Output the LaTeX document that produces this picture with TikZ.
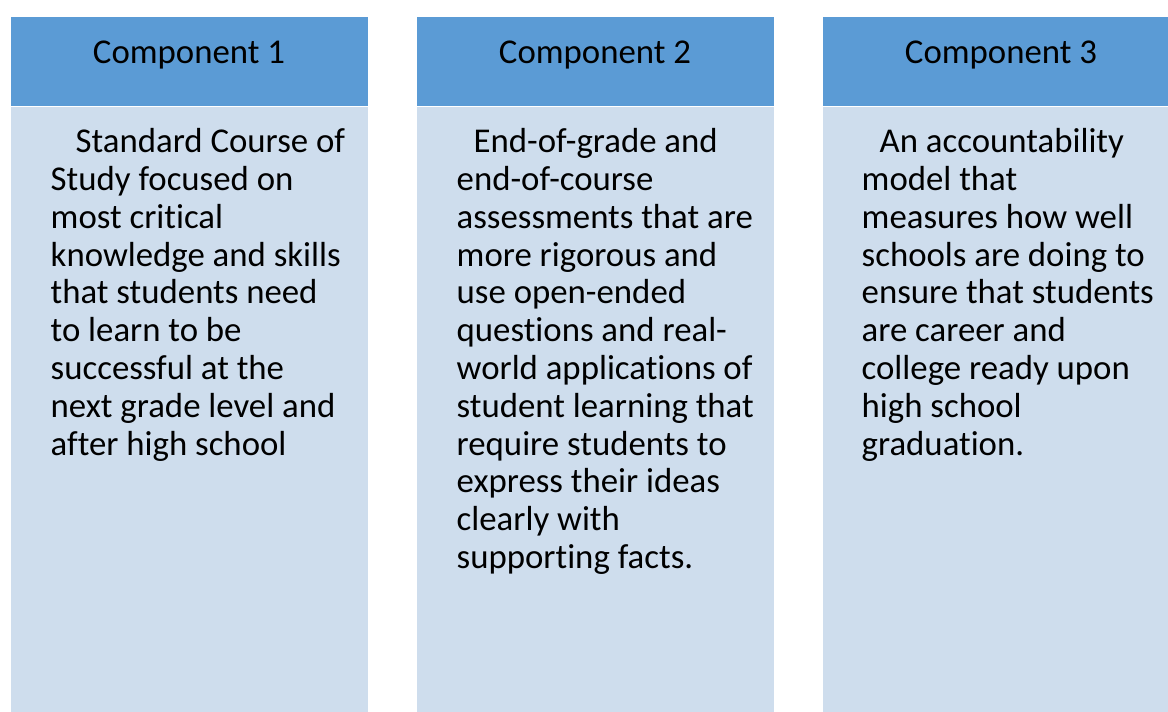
\documentclass[tikz,border=0pt]{standalone}
\usepackage{fontspec}
\setmainfont{Carlito}[Ligatures={NoCommon}]
\definecolor{headblue}{RGB}{91,155,213}
\definecolor{bodyblue}{RGB}{206,221,237}
\tikzset{
  headbox/.style={fill=headblue, draw=white, line width=0.8pt},
  bodybox/.style={fill=bodyblue, draw=white, line width=0.8pt},
  headtext/.style={font=\fontsize{34.8}{37.8}\selectfont, text=black, inner sep=0pt, anchor=base},
  % anchor on the baseline of the last line
  bodytext/.style={font=\fontsize{34.8}{37.8}\selectfont, text=black, inner sep=0pt, align=left, anchor=base west},
}
\begin{document}
\begin{tikzpicture}[x=1pt, y=-1pt]
\useasboundingbox (0,0) rectangle (1168,712);
\begin{scope}
\clip (0,0) rectangle (1168,712);
% column boxes: header on top, text panel below
\path[bodybox] (10,106) rectangle (368,716);
\path[headbox] (10,16) rectangle (368,106);
\path[bodybox] (416,106) rectangle (774,716);
\path[headbox] (416,16) rectangle (774,106);
\path[bodybox] (822,106) rectangle (1180,716);
\path[headbox] (822,16) rectangle (1180,106);
\end{scope}
% headings
\node[headtext] (h1) at (189,63) {Component 1};
\node[headtext] (h2) at (595,63) {Component 2};
\node[headtext] (h3) at (1001,63) {Component 3};
% column texts (first baseline at 152, 37.8 per line)
\node[bodytext] (t1) at (50.5,455) {\hspace*{25pt}Standard Course of\\Study focused on\\most critical\\knowledge and skills\\that students need\\to learn to be\\successful at the\\next grade level and\\after high school};
\node[bodytext] (t2) at (456.5,568.4) {\hspace*{17pt}End-of-grade and\\end-of-course\\assessments that are\\more rigorous and\\use open-ended\\questions and real-\\world applications of\\student learning that\\require students to\\express their ideas\\clearly with\\supporting facts.};
\node[bodytext] (t3) at (861.5,455) {\hspace*{18pt}An accountability\\model that\\measures how well\\schools are doing to\\ensure that students\\are career and\\college ready upon\\high school\\graduation.};
\end{tikzpicture}
\end{document}
